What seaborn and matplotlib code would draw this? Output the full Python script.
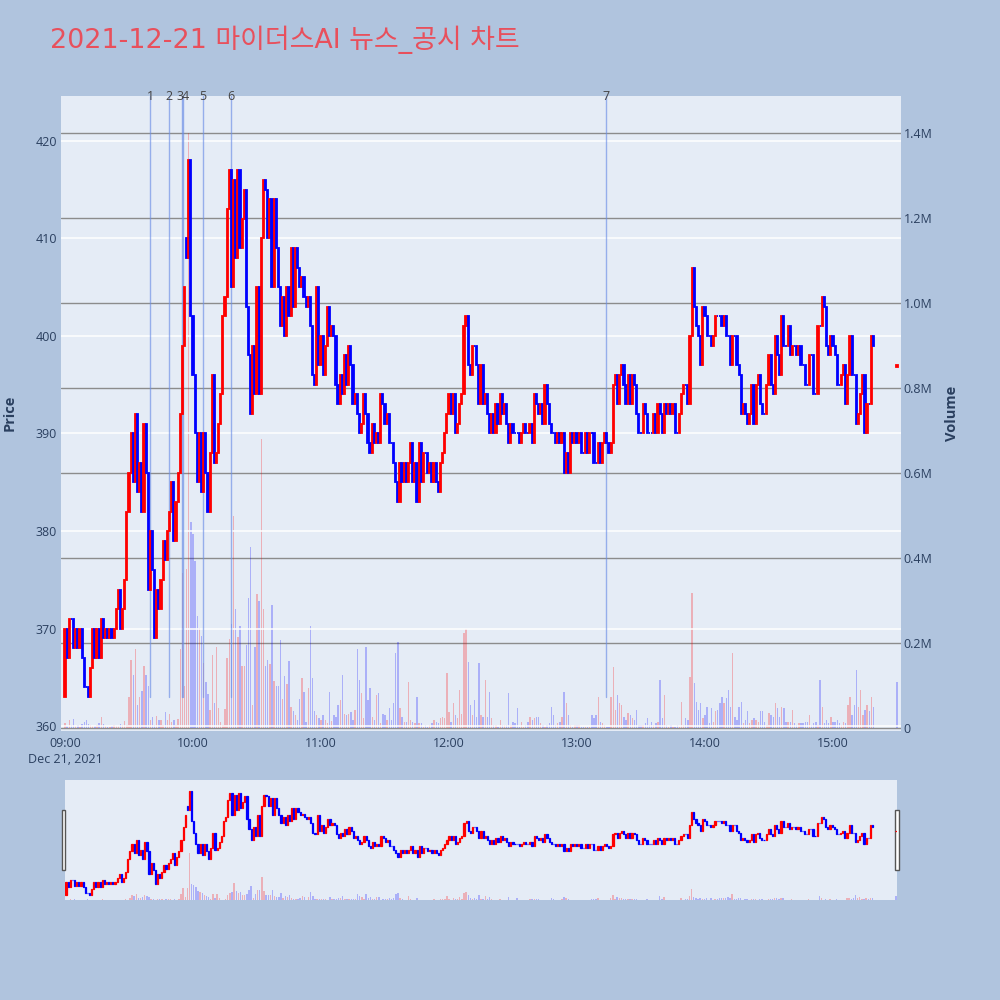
import numpy as np
import pandas as pd
import matplotlib
matplotlib.use("Agg")
import matplotlib.pyplot as plt
import matplotlib.transforms as mtransforms
from matplotlib.patches import Rectangle
import seaborn as sns

# ---------------- data ----------------
title = "2021-12-21 마이더스AI 뉴스_공시 차트"
session_start = "2021-12-21 09:00"
closing_auction = "2021-12-21 15:30"

# 1-minute closes, 09:00 ... 15:19
closes_0900 = [370, 367, 371, 371, 368, 370, 368, 370, 367, 364,
               364, 363, 366, 370, 367, 370, 367, 371, 369, 370,
               369, 370, 369, 370, 372, 374, 370, 372, 375, 382,
               386, 390, 385, 392, 384, 387, 382, 391, 386, 374,
               380, 376, 369, 374, 372, 375, 379, 377, 380, 382,
               385, 379, 383, 386, 392, 399, 405, 408, 418, 402,
               396]
closes_1001 = [390, 385, 390, 384, 390, 386, 382, 388,
               396, 387, 388, 391, 394, 402, 404, 413, 417,
               405, 416, 408, 417, 409, 412, 415, 403, 398, 392,
               399, 394, 405, 394, 410, 416, 415, 410, 414, 405,
               414, 409, 405, 401, 404, 400, 405, 402, 409, 403,
               409, 407, 405, 406, 404, 403, 404, 401, 396, 395,
               405, 397, 400, 396, 399, 403, 400, 401, 400]
closes_1107 = [395, 393, 396, 394, 398, 395, 399,
               397, 393, 394, 392, 390, 391, 394, 392, 389, 388,
               391, 389, 390, 389, 394, 393, 391, 392, 389, 389,
               387, 385, 383, 387, 385, 387, 385, 387, 389, 385,
               387, 383, 389, 385, 388, 388, 386, 387, 385, 387,
               385, 384, 387, 388, 390, 392, 394, 392, 394, 390,
               391, 393, 394, 401, 402, 397, 396]
closes_1211 = [399, 399, 397, 393, 397, 393, 394,
               392, 390, 392, 390, 393, 391, 394, 392, 393, 391,
               389, 391, 390, 390, 390, 389, 390, 391, 390, 390,
               391, 389, 394, 393, 392, 393, 391, 395, 393, 391,
               390, 390, 389, 390, 389, 390, 386, 388, 386, 390,
               389, 390, 389, 390, 388, 388, 390, 388, 390, 390,
               387, 387, 389, 387, 389, 390, 389, 388]
closes_1316 = [389, 395, 396, 393, 396, 397,
               395, 393, 396, 393, 396, 395, 392, 390, 390, 393,
               392, 390, 390, 390, 392, 390,
               393, 392, 390, 393, 392, 393, 392, 393, 390, 390,
               392, 394, 395, 395, 393, 400, 407, 403, 401, 400,
               397, 403, 402, 400, 400, 399, 400, 402, 402, 402,
               401, 402, 400, 400, 397, 400, 400, 397, 396]
closes_1417 = [392, 393, 392, 391, 392, 395, 391,
               395, 396, 393, 392, 392, 395, 398, 395,
               394, 400, 398, 396, 402, 399, 399, 401, 398, 399,
               399, 398, 399, 397, 397, 395, 395, 398, 398,
               394, 394, 401, 401, 404, 403, 399, 398, 400, 399,
               398, 395, 395, 396, 397, 393, 396, 400, 396, 396,
               391, 392, 394, 396, 390, 393, 393, 400, 399]
close_1530 = 397
first_open = 363
open_overrides = {"2021-12-21 09:57": 410, "2021-12-21 15:30": 396.8}

# 1-minute volumes, thousands of shares
vol_0900 = [12, 5, 18, 6, 22, 4, 8, 3, 10, 14,
            20, 9, 6, 5, 4, 8, 12, 26, 10, 5,
            3, 2, 4, 6, 5, 4, 10, 8, 16, 8,
            74, 160, 125, 185, 54, 74, 86, 145, 125, 98,
            20, 26, 8, 28, 20, 20, 8, 38, 20, 34,
            14, 20, 8, 22, 186, 365, 100, 375, 1400, 485,
            456]
vol_1001 = [393, 264, 235, 216, 153, 108, 80, 42, 172, 60,
            190, 48, 14, 8, 45, 165, 210, 245, 500, 280,
            215, 240, 145, 145, 195, 305, 425, 55, 190, 315,
            300, 680, 280, 145, 160, 150, 290, 110, 100, 100,
            207, 68, 122, 104, 158, 49, 40, 30, 18, 68,
            118, 85, 14, 95, 240, 118, 40, 30, 24, 20,
            30, 20, 12, 85, 16, 31]
vol_1107 = [27, 54, 66, 125, 34, 31, 34, 38, 19, 42,
            187, 113, 82, 23, 191, 66, 93, 27, 19, 78,
            82, 11, 34, 31, 19, 46, 19, 58, 176, 203,
            46, 27, 15, 15, 109, 19, 15, 11, 74, 11,
            11, 3, 7, 3, 7, 11, 19, 15, 11, 23,
            27, 23, 129, 38, 15, 58, 31, 23, 89, 34,
            223, 234, 156, 54]
vol_1211 = [31, 66, 27, 152, 31, 27, 113, 27, 85, 23,
            7, 7, 3, 19, 7, 7, 7, 82, 7, 15,
            11, 46, 3, 15, 3, 7, 15, 27, 19, 23,
            27, 27, 11, 7, 3, 7, 11, 50, 31, 7,
            11, 15, 27, 85, 58, 31, 7, 3, 7, 7,
            7, 3, 3, 3, 3, 3, 31, 23, 31, 74,
            15, 11, 7, 3, 3]
vol_1316 = [74, 144, 42, 78, 58, 54, 27, 19, 35, 31,
            23, 19, 42, 7, 7, 7, 11, 23, 7, 15,
            7, 11, 15, 113, 23, 78, 7, 3, 7, 3,
            3, 7, 3, 62, 7, 23, 19, 121, 317, 105,
            62, 42, 58, 23, 31, 50, 11, 46, 15, 39,
            42, 58, 74, 58, 70, 89, 50, 176, 27, 19,
            50]
vol_1417 = [62, 11, 19, 39, 11, 19, 23, 19, 15, 39,
            39, 15, 7, 35, 31, 27, 58, 46, 27, 50,
            46, 15, 15, 15, 42, 11, 7, 11, 11, 11,
            15, 15, 31, 7, 11, 15, 7, 113, 50, 11,
            19, 11, 27, 15, 15, 19, 11, 7, 15, 11,
            54, 74, 31, 54, 136, 50, 89, 31, 42, 54,
            39, 74, 50]
vol_1530 = 109

news_times = ["09:39:50", "09:48:45", "09:54:40", "09:55:10", "10:04:40", "10:17:50", "13:13:40"]
news_label_times = ["09:39:50", "09:48:45", "09:53:40", "09:56:30", "10:04:40", "10:17:50", "13:13:40"]
news_labels = ["1", "2", "3", "4", "5", "6", "7"]
price_ticks = [360, 370, 380, 390, 400, 410, 420]
volume_ticks = [0, 200000, 400000, 600000, 800000, 1000000, 1200000, 1400000]
time_ticks = ["09:00", "10:00", "11:00", "12:00", "13:00", "14:00", "15:00"]

# ---------------- table ----------------
closes = (closes_0900 + closes_1001 + closes_1107 + closes_1211 +
          closes_1316 + closes_1417)
vols = vol_0900 + vol_1001 + vol_1107 + vol_1211 + vol_1316 + vol_1417
times = list(pd.date_range(session_start, periods=len(closes), freq="min")) + \
    [pd.Timestamp(closing_auction)]
df = pd.DataFrame({"time": times,
                   "close": closes + [close_1530],
                   "volume": np.array(vols + [vol_1530], dtype=float) * 1000})
df["open"] = df["close"].shift(1).fillna(first_open)
for t, o in open_overrides.items():
    df.loc[df["time"] == pd.Timestamp(t), "open"] = o
t0 = pd.Timestamp(session_start)
df["minute"] = (df["time"] - t0).dt.total_seconds() / 60.0
df["up"] = df["close"] > df["open"]
df["vol_up"] = df["close"] > df["close"].shift(1).fillna(first_open)

def to_min(hms):
    return (pd.Timestamp("2021-12-21 " + hms) - t0).total_seconds() / 60.0

# ---------------- style ----------------
sns.set_theme(style="white")
plt.rcParams["font.family"] = ["Open Sans", "Noto Sans CJK KR", "DejaVu Sans"]

BG = "#B0C4DE"
PLOT_BG = "#E5ECF6"
TXT = "#2a3f5f"
UP, DOWN = "#FF0000", "#0000FF"

fig = plt.figure(figsize=(10, 10), dpi=100, facecolor=BG)

def draw_candles(ax, width, lw):
    cols = np.where(df["up"], UP, DOWN)
    ax.bar(df["minute"], df["close"] - df["open"], bottom=df["open"],
           width=width, color=cols, edgecolor=cols, linewidth=lw, zorder=3)

def draw_volume(ax, width):
    cols = np.where(df["vol_up"], UP, DOWN)
    ax.bar(df["minute"], df["volume"], width=width, color=cols,
           alpha=0.25, linewidth=0, zorder=2)

xlim_main = (-1.9, 391.9)

# main price axes + volume twin
axp = fig.add_axes([0.061, 0.269, 0.840, 0.635])
axv = axp.twinx()
axp.set_zorder(axv.get_zorder() + 1)
axp.patch.set_visible(False)
axv.patch.set_visible(True)
axv.set_facecolor(PLOT_BG)

draw_volume(axv, 0.65)
axv.set_ylim(-7000, 1487000)
axv.set_yticks(volume_ticks)
axv.set_yticklabels(["0" if v == 0 else f"{v/1e6:.1f}M" for v in volume_ticks])
axv.yaxis.grid(True, color="#8c8c8c", linewidth=1.0)
axv.set_axisbelow(True)
axv.tick_params(axis="y", length=0, labelsize=9, labelcolor=TXT, pad=2)

draw_candles(axp, 0.55, 1.3)
axp.set_ylim(359.5, 424.6)
axp.set_xlim(*xlim_main)
axp.set_yticks(price_ticks)
axp.yaxis.grid(True, color="white", linewidth=1.1)
axp.xaxis.grid(False)
axp.set_axisbelow(True)
axp.tick_params(axis="y", length=0, labelsize=9, labelcolor=TXT, pad=3)
tick_pos = [to_min(t + ":00") for t in time_ticks]
tick_lab = [t for t in time_ticks]
tick_lab[0] = tick_lab[0] + "\n" + t0.strftime("%b %d, %Y").replace(" 0", " ")
axp.set_xticks(tick_pos)
axp.set_xticklabels(tick_lab, linespacing=1.35)
axp.tick_params(axis="x", length=0, labelsize=9, labelcolor=TXT, pad=4)

# news lines
blend = mtransforms.blended_transform_factory(axp.transData, axp.transAxes)
for t, tl, lab in zip(news_times, news_label_times, news_labels):
    xm = to_min(t)
    axp.plot([xm, xm], [0.053, 1.0], transform=blend, color="#6B8EE6",
             alpha=0.65, linewidth=1.0, zorder=2.5)
    axp.text(to_min(tl), 1.0, lab, transform=blend, ha="center", va="center",
             fontsize=9, color="#444444", zorder=5, clip_on=False)

for a in (axp, axv):
    for s in a.spines.values():
        s.set_visible(False)

fig.text(0.010, 0.587, "Price", rotation=90, ha="center", va="center",
         fontsize=10.5, fontweight="bold", color=TXT)
fig.text(0.952, 0.587, "Volume", rotation=90, ha="center", va="center",
         fontsize=10.5, fontweight="bold", color=TXT)
fig.text(0.050, 0.960, title, ha="left", va="center", fontsize=19.4,
         color="#E8505C", family=["DejaVu Sans", "Noto Sans CJK KR"])

# range slider
axs = fig.add_axes([0.065, 0.100, 0.832, 0.120])
axsv = axs.twinx()
axs.set_zorder(axsv.get_zorder() + 1)
axs.patch.set_visible(False)
axsv.patch.set_visible(True)
axsv.set_facecolor(PLOT_BG)
draw_volume(axsv, 0.65)
axsv.set_ylim(0, 3.6e6)
draw_candles(axs, 0.55, 0.9)
axs.set_ylim(360.4, 423.7)
axs.set_xlim(-0.5, 390.5)
for a in (axs, axsv):
    a.set_xticks([])
    a.set_yticks([])
    a.grid(False)
    for s in a.spines.values():
        s.set_visible(False)

for xh in (0.0615, 0.8950):
    fig.add_artist(Rectangle((xh, 0.130), 0.0038, 0.060, transform=fig.transFigure,
                             facecolor="white", edgecolor="#555555", linewidth=1.0))

fig.savefig("out.png", dpi=100, facecolor=BG)
